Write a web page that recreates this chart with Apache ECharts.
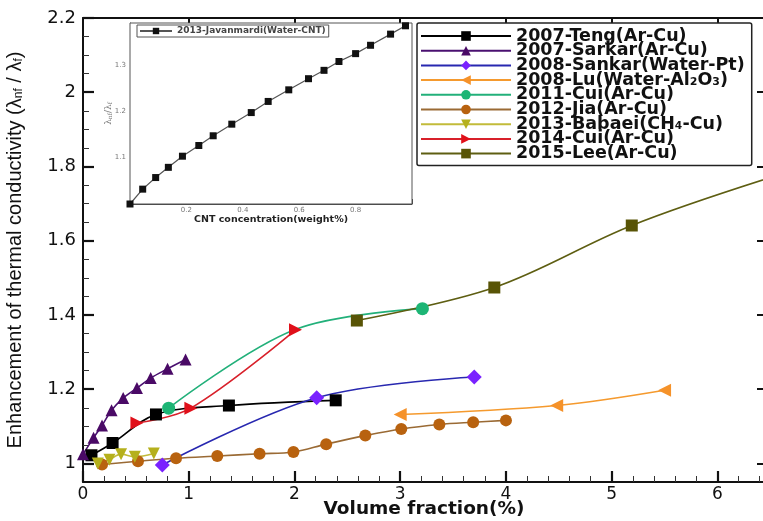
<!DOCTYPE html>
<html><head><meta charset="utf-8">
<script src="https://cdn.jsdelivr.net/npm/echarts@6/dist/echarts.min.js"></script>
<style>html,body{margin:0;padding:0;background:#fff}#c{width:763px;height:521px}</style>
</head><body><div id="c"></div>
<script>
// ---- data ----
const seriesNames = ['2007-Teng(Ar-Cu)','2007-Sarkar(Ar-Cu)','2008-Sankar(Water-Pt)','2008-Lu(Water-Al₂O₃)','2011-Cui(Ar-Cu)','2012-Jia(Ar-Cu)','2013-Babaei(CH₄-Cu)','2014-Cui(Ar-Cu)','2015-Lee(Ar-Cu)'];
const tengX = [0.08,0.28,0.69,1.38,2.39];
const tengY = [1.022,1.055,1.132,1.156,1.17];
const sarkarX = [0.0,0.1,0.18,0.27,0.38,0.51,0.64,0.8,0.97];
const sarkarY = [1.025,1.069,1.102,1.143,1.176,1.203,1.23,1.255,1.28];
const sankarX = [0.75,2.21,3.7];
const sankarY = [0.996,1.177,1.233];
const luX = [3.0,4.48,5.5];
const luY = [1.132,1.156,1.197];
const cui11X = [0.81,2.0,3.21];
const cui11Y = [1.149,1.36,1.417];
const jiaX = [0.18,0.52,0.88,1.27,1.67,1.99,2.3,2.67,3.01,3.37,3.69,4.0];
const jiaY = [0.997,1.006,1.014,1.02,1.026,1.031,1.052,1.075,1.093,1.105,1.111,1.116];
const babaeiX = [0.14,0.25,0.36,0.49,0.67];
const babaeiY = [1.0,1.01,1.025,1.018,1.027];
const cui14X = [0.51,1.02,2.01];
const cui14Y = [1.109,1.149,1.36];
const leeX = [2.59,3.89,5.19,6.5];
const leeY = [1.385,1.474,1.641,1.77];
const javName = '2013-Javanmardi(Water-CNT)';
const javX = [0,0.045,0.091,0.136,0.186,0.244,0.295,0.361,0.43,0.49,0.563,0.633,0.688,0.741,0.8,0.853,0.924,0.977];
const javY = [1.0,1.032,1.057,1.079,1.103,1.126,1.147,1.172,1.197,1.221,1.246,1.27,1.288,1.307,1.324,1.342,1.366,1.384];
const yTicks = [1,1.2,1.4,1.6,1.8,2,2.2];
const yMinorTicks = [1.05,1.1,1.15,1.25,1.3,1.35,1.45,1.5,1.55,1.65,1.7,1.75,1.85,1.9,1.95,2.05,2.1,2.15];
const insetYTicks = [1.1,1.2,1.3];

// ---- build ----
const zip = (xs, ys) => xs.map((x, i) => [x, ys[i]]);
const FONT = 'DejaVu Sans';
function mk(name, xs, ys, o) {
  return {
    name, type: 'line', smooth: 0.35, xAxisIndex: 0, yAxisIndex: 0,
    data: o.data || zip(xs, ys),
    symbol: o.symbol, symbolSize: o.size, symbolRotate: o.rot || 0,
    lineStyle: { color: o.line, width: 1.6 },
    itemStyle: { color: o.fill, borderColor: o.fill, borderWidth: 0 },
    z: 3
  };
}
const cui11Data = zip(cui11X, cui11Y).map((p, i) => i === 1 ? { value: p, symbol: 'none' } : p);
const series = [
  mk(seriesNames[0], tengX, tengY, { symbol: 'rect', size: 12, line: '#000', fill: '#000' }),
  mk(seriesNames[1], sarkarX, sarkarY, { symbol: 'triangle', size: 12, line: '#4a1070', fill: '#4a0a66' }),
  mk(seriesNames[2], sankarX, sankarY, { symbol: 'diamond', size: 15, line: '#2828b0', fill: '#7a22ff' }),
  mk(seriesNames[3], luX, luY, { symbol: 'triangle', size: 13, rot: 90, line: '#f59a2e', fill: '#f5922a' }),
  mk(seriesNames[4], cui11X, cui11Y, { symbol: 'circle', size: 13, line: '#22b07a', fill: '#1db575', data: cui11Data }),
  mk(seriesNames[5], jiaX, jiaY, { symbol: 'circle', size: 12, line: '#9a6a34', fill: '#b8620f' }),
  mk(seriesNames[6], babaeiX, babaeiY, { symbol: 'triangle', size: 12, rot: 180, line: '#c2bb3a', fill: '#b5b01c' }),
  mk(seriesNames[7], cui14X, cui14Y, { symbol: 'triangle', size: 13, rot: -90, line: '#d8202a', fill: '#e0101a' }),
  mk(seriesNames[8], leeX, leeY, { symbol: 'rect', size: 12, line: '#5e5e12', fill: '#585406' }),
  {
    name: javName, type: 'line', xAxisIndex: 2, yAxisIndex: 3, data: zip(javX, javY),
    symbol: 'rect', symbolSize: 7, lineStyle: { color: '#555', width: 1.2 },
    itemStyle: { color: '#111' }, z: 5
  }
];

const axisCol = '#111';
const option = {
  animation: false,
  backgroundColor: '#fff',
  grid: [
    { left: 83, top: 18, right: -2, bottom: 39, show: false, outerBoundsMode: 'none', containLabel: false },
    { left: 130, top: 23, width: 282, height: 181, show: true, backgroundColor: '#fff', borderColor: '#555', borderWidth: 1, z: 4, outerBoundsMode: 'none', containLabel: false }
  ],
  xAxis: [
    { gridIndex: 0, type: 'value', min: 0, max: 6.45, interval: 1, position: 'bottom',
      axisLine: { lineStyle: { color: axisCol, width: 2 } },
      axisTick: { inside: true, length: 11, lineStyle: { color: axisCol, width: 2.2 } },
      minorTick: { show: true, splitNumber: 5, length: 6, lineStyle: { color: '#333', width: 1 } },
      splitLine: { show: false },
      axisLabel: { color: '#111', fontFamily: FONT, fontSize: 17, margin: 4, showMaxLabel: false },
      name: 'Volume fraction(%)', nameLocation: 'middle', nameGap: 18, nameMoveOverlap: false,
      nameTextStyle: { fontFamily: FONT, fontWeight: 'bold', fontSize: 18.5, color: '#111' } },
    { gridIndex: 0, type: 'value', min: 0, max: 6.45, interval: 1, position: 'top',
      axisLine: { lineStyle: { color: axisCol, width: 2 } },
      axisTick: { inside: true, length: 8, lineStyle: { color: axisCol, width: 2 } },
      axisLabel: { show: false }, splitLine: { show: false } },
    { gridIndex: 1, type: 'value', min: 0, max: 1, interval: 0.2, position: 'bottom',
      axisLine: { lineStyle: { color: '#444', width: 1 } },
      axisTick: { inside: true, length: 5, lineStyle: { color: '#444' } },
      minorTick: { show: true, splitNumber: 2, length: 3, lineStyle: { color: '#666' } },
      splitLine: { show: false },
      axisLabel: { color: '#777', fontFamily: FONT, fontSize: 7, margin: 3, formatter: v => (v === 0 || v === 1) ? '' : v.toFixed(1) },
      name: 'CNT concentration(weight%)', nameLocation: 'middle', nameGap: 11, nameMoveOverlap: false,
      nameTextStyle: { fontFamily: FONT, fontWeight: 'bold', fontSize: 9.5, color: '#222' } }
  ],
  yAxis: [
    { gridIndex: 0, type: 'value', min: 0.95, max: 2.2, position: 'left',
      axisLine: { lineStyle: { color: axisCol, width: 2 } },
      axisTick: { inside: true, length: 11, customValues: yTicks, lineStyle: { color: axisCol, width: 2.2 } },
      axisLabel: { customValues: yTicks, color: '#111', fontFamily: FONT, fontSize: 18, margin: 7, formatter: v => String(+v.toFixed(1)) },
      splitLine: { show: false },
      name: 'Enhancement of thermal conductivity (λ{s|nf} / λ{s|f})', nameLocation: 'middle', nameGap: 58, nameMoveOverlap: false,
      nameTextStyle: { fontFamily: 'Liberation Sans', fontSize: 20, color: '#111',
        rich: { s: { fontFamily: 'Liberation Sans', fontSize: 12, verticalAlign: 'bottom', color: '#111' } } } },
    { gridIndex: 0, type: 'value', min: 0.95, max: 2.2, position: 'left',
      axisLine: { show: false },
      axisTick: { inside: true, length: 6, customValues: yMinorTicks, lineStyle: { color: '#333', width: 1 } },
      axisLabel: { show: false }, splitLine: { show: false } },
    { gridIndex: 0, type: 'value', min: 0.95, max: 2.2, position: 'right',
      axisLine: { lineStyle: { color: axisCol, width: 2 } },
      axisTick: { inside: true, length: 8, customValues: yTicks, lineStyle: { color: axisCol, width: 2 } },
      axisLabel: { show: false }, splitLine: { show: false } },
    { gridIndex: 1, type: 'value', min: 1, max: 1.39, position: 'left',
      axisLine: { lineStyle: { color: '#444', width: 1 } },
      axisTick: { inside: true, length: 5, customValues: insetYTicks, lineStyle: { color: '#444' } },
      axisLabel: { customValues: insetYTicks, color: '#777', fontFamily: FONT, fontSize: 7, margin: 4, formatter: v => v.toFixed(1) },
      splitLine: { show: false },
      name: 'λ{s|nf}/λ{s|f}', nameLocation: 'middle', nameGap: 17, nameMoveOverlap: false,
      nameTextStyle: { fontFamily: 'DejaVu Serif', fontSize: 9, color: '#777',
        rich: { s: { fontFamily: 'DejaVu Serif', fontSize: 6, verticalAlign: 'bottom', color: '#777' } } } }
  ],
  legend: [
    { data: seriesNames, orient: 'vertical', left: 417, top: 23,
      padding: [4, 7, 3, 3], itemGap: -3.3, itemWidth: 90, itemHeight: 12, itemSymbolRotate: 'inherit',
      itemTextGap: 18,
      backgroundColor: '#fff', borderColor: '#222', borderWidth: 1.5, borderRadius: 2,
      textStyle: { fontFamily: FONT, fontWeight: 'bold', fontSize: 17.5, lineHeight: 14, color: '#111' } },
    { data: [javName], orient: 'vertical', left: 137, top: 25,
      padding: [1, 3, 1, 2], itemWidth: 32, itemHeight: 8, itemTextGap: 21,
      backgroundColor: '#fff', borderColor: '#555', borderWidth: 1,
      textStyle: { fontFamily: FONT, fontWeight: 'bold', fontSize: 9, lineHeight: 10, color: '#444' } }
  ],
  series
};
const chart = echarts.init(document.getElementById('c'), null, { renderer: 'canvas' });
chart.setOption(option);
</script></body></html>
